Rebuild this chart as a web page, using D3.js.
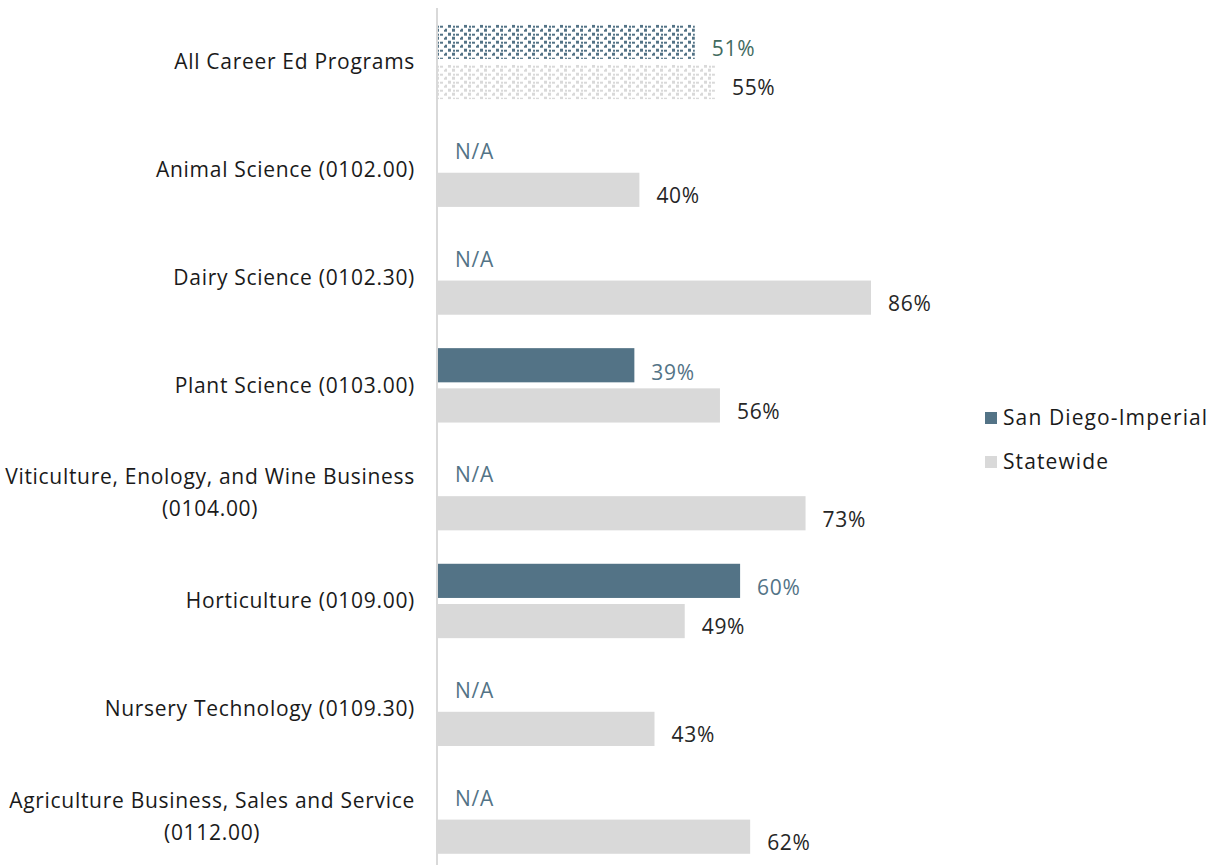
<!DOCTYPE html>
<html lang="en">
<head>
    <meta charset="UTF-8">
    <title>Career Ed Programs</title>
    <script src="https://cdn.jsdelivr.net/npm/d3@7"></script>
    <style>
        body { margin: 0; background: #fff; }
        svg { display: block; font-family: "Open Sans", sans-serif; letter-spacing: 0.7px; }
        .legend text { letter-spacing: 1.1px; }
    </style>
</head>
<body>
    <div id="chart-space"></div>

    <script>
        // data
        var categories = [
            "All Career Ed Programs",
            "Animal Science (0102.00)",
            "Dairy Science (0102.30)",
            "Plant Science (0103.00)",
            "Viticulture, Enology, and Wine Business (0104.00)",
            "Horticulture (0109.00)",
            "Nursery Technology (0109.30)",
            "Agriculture Business, Sales and Service (0112.00)"
        ];
        var regionValues = [51, null, null, 39, null, 60, null, null];
        var stateValues = [55, 40, 86, 56, 73, 49, 43, 62];
        var seriesNames = ["San Diego-Imperial", "Statewide"];

        var width = 1217;
        var height = 865;
        var axisX = 438;

        var darkColor = "#537386";
        var lightColor = "#d9d9d9";

        var svg = d3.select("#chart-space")
            .append("svg")
            .attr("width", width)
            .attr("height", height);

        // patterns for the "all programs" row
        var defs = svg.append("defs");
        function confetti(id, color) {
            var p = defs.append("pattern")
                .attr("id", id)
                .attr("patternUnits", "userSpaceOnUse")
                .attr("width", 16)
                .attr("height", 8);
            p.append("rect").attr("width", 16).attr("height", 8).attr("fill", "#fff");
            [[0, 0, 3, 3], [8, 1, 3, 2], [4, 4, 3, 3], [12, 5, 3, 2], [5, 1, 2, 2], [13, 4, 2, 1]]
                .forEach(function(r) {
                    p.append("rect")
                        .attr("x", r[0]).attr("y", r[1])
                        .attr("width", r[2]).attr("height", r[3])
                        .attr("fill", color);
                });
        }
        confetti("patDark", darkColor);
        confetti("patLight", lightColor);

        var rows = categories.map(function(c, i) {
            return {cat: c, region: regionValues[i], state: stateValues[i], idx: i};
        });

        var yScale = d3.scaleBand()
            .domain(categories)
            .range([8, 870.5])
            .paddingInner(0.31)
            .paddingOuter(0.155);

        var ySub = d3.scaleBand()
            .domain(["region", "state"])
            .range([0, yScale.bandwidth()])
            .paddingInner(0.15);

        var xScale = d3.scaleLinear()
            .domain([0, 100])
            .range([axisX, axisX + 503.5]);

        var groups = svg.selectAll("g.row")
            .data(rows)
            .join("g")
            .attr("class", "row")
            .attr("transform", function(d) { return "translate(0," + yScale(d.cat) + ")"; });

        // region bars
        groups.filter(function(d) { return d.region != null; })
            .append("rect")
            .attr("x", xScale(0))
            .attr("y", ySub("region"))
            .attr("width", function(d) { return xScale(d.region) - xScale(0); })
            .attr("height", ySub.bandwidth())
            .attr("fill", function(d) { return d.idx === 0 ? "url(#patDark)" : darkColor; });

        // statewide bars
        groups.append("rect")
            .attr("x", xScale(0))
            .attr("y", ySub("state"))
            .attr("width", function(d) { return xScale(d.state) - xScale(0); })
            .attr("height", ySub.bandwidth())
            .attr("fill", function(d) { return d.idx === 0 ? "url(#patLight)" : lightColor; });

        // region labels (value or N/A)
        groups.append("text")
            .attr("x", function(d) { return d.region != null ? xScale(d.region) + 17 : xScale(0) + 17; })
            .attr("y", function(d) { return ySub("region") + ySub.bandwidth() / 2 + (d.region != null ? 7 : 2); })
            .attr("dy", "0.35em")
            .attr("font-size", 21)
            .attr("fill", function(d) { return d.idx === 0 ? "#426b5f" : darkColor; })
            .text(function(d) { return d.region != null ? d.region + "%" : "N/A"; });

        // statewide labels
        groups.append("text")
            .attr("x", function(d) { return xScale(d.state) + 17; })
            .attr("y", ySub("state") + ySub.bandwidth() / 2 + 6)
            .attr("dy", "0.35em")
            .attr("font-size", 21)
            .attr("fill", "#262626")
            .text(function(d) { return d.state + "%"; });

        // category labels, wrapped before the code when too long
        var labelRight = 415;
        groups.each(function(d) {
            var g = d3.select(this);
            var t = g.append("text")
                .attr("font-size", 21)
                .attr("fill", "#1a1a1a")
                .attr("text-anchor", "middle");
            var lines = [d.cat];
            var probe = t.text(d.cat);
            if (probe.node().getComputedTextLength() > 420) {
                var k = d.cat.lastIndexOf(" (");
                lines = [d.cat.slice(0, k), d.cat.slice(k + 1)];
            }
            t.text(null);
            var maxW = 0;
            var spans = lines.map(function(l) {
                var s = t.append("tspan").text(l);
                maxW = Math.max(maxW, s.node().getComputedTextLength());
                return s;
            });
            var cx = labelRight - maxW / 2;
            var mid = yScale.bandwidth() / 2;
            var lh = 32;
            spans.forEach(function(s, j) {
                s.attr("x", cx)
                    .attr("y", mid + (j - (lines.length - 1) / 2) * lh)
                    .attr("dy", "0.35em");
            });
        });

        // vertical axis line
        svg.append("line")
            .attr("x1", axisX - 1).attr("x2", axisX - 1)
            .attr("y1", 8).attr("y2", height)
            .attr("stroke", lightColor)
            .attr("stroke-width", 2);

        // legend
        var legend = svg.selectAll("g.legend")
            .data(seriesNames)
            .join("g")
            .attr("class", "legend")
            .attr("transform", function(d, i) { return "translate(985," + (418 + i * 44) + ")"; });

        legend.append("rect")
            .attr("x", 0).attr("y", -6)
            .attr("width", 12).attr("height", 12)
            .attr("fill", function(d, i) { return i === 0 ? darkColor : lightColor; });

        legend.append("text")
            .attr("x", 18)
            .attr("dy", "0.35em")
            .attr("font-size", 21)
            .attr("fill", "#1a1a1a")
            .text(function(d) { return d; });
    </script>
</body>
</html>
